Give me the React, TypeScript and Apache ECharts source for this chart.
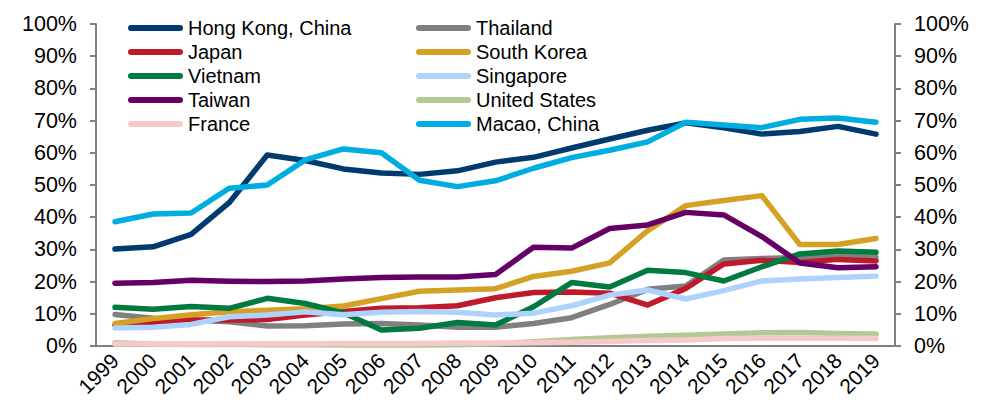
import React, { useEffect, useRef } from "react";
import * as echarts from "echarts";

const years = ["1999","2000","2001","2002","2003","2004","2005","2006","2007","2008","2009","2010","2011","2012","2013","2014","2015","2016","2017","2018","2019"];

const hongKong = [30.1, 30.8, 34.7, 44.5, 59.3, 57.6, 55.0, 53.7, 53.3, 54.4, 57.1, 58.6, 61.5, 64.3, 67.0, 69.3, 67.8, 65.8, 66.6, 68.2, 65.8];
const thailand = [9.8, 8.6, 8.1, 7.5, 6.2, 6.3, 6.8, 7.0, 6.5, 5.8, 5.8, 7.0, 8.8, 12.9, 17.6, 18.6, 26.7, 27.2, 27.5, 28.0, 27.5];
const japan = [6.5, 7.0, 8.1, 8.1, 8.2, 9.6, 10.7, 11.7, 11.9, 12.5, 15.0, 16.6, 16.8, 16.4, 12.7, 17.9, 25.5, 26.6, 25.9, 26.9, 26.4];
const southKorea = [7.0, 8.5, 9.7, 10.6, 11.1, 11.6, 12.4, 14.7, 17.0, 17.4, 17.8, 21.6, 23.2, 25.8, 35.8, 43.6, 45.2, 46.7, 31.5, 31.5, 33.4];
const vietnam = [12.0, 11.4, 12.3, 11.7, 14.8, 13.2, 10.3, 5.0, 5.5, 7.3, 6.5, 12.2, 19.7, 18.3, 23.5, 22.8, 20.2, 24.6, 28.6, 29.5, 29.1];
const singapore = [5.6, 5.8, 6.7, 9.1, 9.6, 10.6, 9.7, 10.5, 10.7, 10.5, 9.6, 10.2, 12.5, 15.8, 17.4, 14.6, 17.2, 20.2, 20.8, 21.3, 21.7];
const taiwan = [19.5, 19.7, 20.4, 20.1, 20.0, 20.2, 20.8, 21.3, 21.4, 21.4, 22.2, 30.7, 30.4, 36.5, 37.6, 41.5, 40.7, 34.0, 25.8, 24.3, 24.6];
const unitedStates = [1.0, 0.6, 0.5, 0.5, 0.4, 0.4, 0.3, 0.3, 0.3, 0.4, 0.7, 1.3, 2.0, 2.6, 3.0, 3.3, 3.7, 4.1, 4.2, 3.9, 3.7];
const france = [0.6, 0.6, 0.6, 0.7, 0.7, 0.7, 0.8, 0.8, 0.8, 0.9, 0.9, 1.0, 1.2, 1.4, 1.7, 1.9, 2.3, 2.4, 2.4, 2.4, 2.3];
const macao = [38.6, 41.0, 41.3, 49.0, 50.0, 57.8, 61.2, 60.0, 51.5, 49.5, 51.3, 55.2, 58.5, 60.8, 63.4, 69.5, 68.6, 67.8, 70.4, 70.8, 69.5];

const seriesDefs = [
  { name: "Hong Kong, China", data: hongKong, color: "#003A70" },
  { name: "Thailand", data: thailand, color: "#808080" },
  { name: "Japan", data: japan, color: "#C0192B" },
  { name: "South Korea", data: southKorea, color: "#D4A124" },
  { name: "Vietnam", data: vietnam, color: "#007A3E" },
  { name: "Singapore", data: singapore, color: "#ADD3FC" },
  { name: "Taiwan", data: taiwan, color: "#660066" },
  { name: "United States", data: unitedStates, color: "#B3C994" },
  { name: "France", data: france, color: "#F8C9CA" },
  { name: "Macao, China", data: macao, color: "#00ADE1" },
];

const leftLegend = ["Hong Kong, China", "Japan", "Vietnam", "Taiwan", "France"];
const rightLegend = ["Thailand", "South Korea", "Singapore", "United States", "Macao, China"];

const FONT = "'Liberation Sans', Arial, sans-serif";
const capsule = "path://M3,0 L52,0 A3,3 0 0 1 52,6 L3,6 A3,3 0 0 1 3,0 Z";

export default function App() {
  const ref = useRef<HTMLDivElement>(null);
  useEffect(() => {
    if (!ref.current) return;
    const chart = echarts.init(ref.current, null, { renderer: "svg" });
    const legendCommon = {
      orient: "vertical" as const,
      top: 18,
      padding: 0,
      itemWidth: 55,
      itemHeight: 6,
      itemGap: 4,
      icon: capsule,
      textStyle: { fontFamily: FONT, fontSize: 20, color: "#000", lineHeight: 20 },
      selectedMode: false,
    };
    const yAxisCommon = {
      type: "value" as const,
      min: 0,
      max: 100,
      interval: 10,
      splitLine: { show: false },
      axisLine: { show: true, lineStyle: { color: "#808080", width: 2 } },
      axisTick: { show: true, length: 6, lineStyle: { color: "#808080", width: 2 } },
      axisLabel: {
        formatter: "{value}%",
        fontFamily: FONT,
        fontSize: 21.5,
        color: "#000",
        margin: 19,
      },
    };
    chart.setOption({
      animation: false,
      grid: { left: 96, right: 89, top: 24, bottom: 59, containLabel: false },
      legend: [
        { ...legendCommon, left: 128, data: leftLegend },
        { ...legendCommon, left: 416, data: rightLegend },
      ],
      xAxis: {
        type: "category",
        data: years,
        boundaryGap: true,
        axisLine: { show: true, lineStyle: { color: "#808080", width: 2 } },
        axisTick: { show: false },
        axisLabel: {
          rotate: 45,
          interval: 0,
          fontFamily: FONT,
          fontSize: 21,
          color: "#000",
          margin: 11,
        },
      },
      yAxis: [
        { ...yAxisCommon, position: "left" },
        { ...yAxisCommon, position: "right" },
      ],
      series: seriesDefs.map((s) => ({
        name: s.name,
        type: "line",
        data: s.data,
        yAxisIndex: 0,
        showSymbol: false,
        symbol: "none",
        color: s.color,
        lineStyle: { color: s.color, width: 5.5, cap: "round", join: "round" },
        emphasis: { disabled: true },
      })),
    });
    return () => chart.dispose();
  }, []);
  return <div ref={ref} style={{ width: 984, height: 405, position: "absolute", left: 0, top: 0 }} />;
}
